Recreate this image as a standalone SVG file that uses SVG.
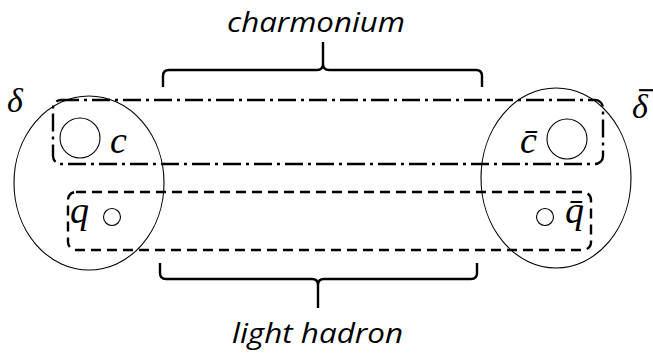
<svg xmlns="http://www.w3.org/2000/svg" width="653" height="353" viewBox="0 0 653 353">
<style>
.thin{fill:none;stroke:#000;stroke-width:1.1}
.dd{fill:none;stroke:#000;stroke-width:2.4;stroke-dasharray:18 5 3 5}
.da{fill:none;stroke:#000;stroke-width:2.4;stroke-dasharray:10 6}
.br{fill:none;stroke:#000;stroke-width:2.4}
.lab{font-family:"Open Sans",sans-serif;font-style:italic;font-size:27px;fill:#000}
.m{font-family:"Liberation Serif","DejaVu Serif",serif;font-style:italic;font-size:38px;fill:#000}
.g{font-family:"Liberation Serif","DejaVu Serif",serif;font-style:italic;font-size:34px;fill:#000}
</style>
<rect width="653" height="353" fill="#fff"/>
<g id="delta">
<ellipse class="thin" cx="89" cy="183" rx="75" ry="87"/>
<text class="g" x="7" y="112">δ</text>
</g>
<g id="deltabar">
<ellipse class="thin" cx="556" cy="178" rx="75" ry="90"/>
<text class="g" x="632" y="118">δ<tspan x="637" y="115" stroke="#000" stroke-width="0.7">¯</tspan></text>
</g>
<g id="charm">
<circle class="thin" cx="80" cy="138" r="20"/>
<text class="m" x="110" y="153">c</text>
</g>
<g id="anticharm">
<circle class="thin" cx="567" cy="139" r="20"/>
<text class="m" x="520" y="153">c̄</text>
</g>
<g id="quark">
<circle class="thin" cx="112" cy="217" r="8.5"/>
<text class="m" x="70" y="223">q</text>
</g>
<g id="antiquark">
<circle class="thin" cx="545" cy="217" r="8.5"/>
<text class="m" x="565" y="223">q̄</text>
</g>
<g id="connectors">
<rect class="dd" x="53" y="100" width="550" height="64" rx="8"/>
<rect class="da" x="68" y="192" width="523" height="58" rx="8"/>
<path class="br" d="M163,87 V76 Q163,70 169,70 H317 Q323,70 323,64 V42 M323,64 Q323,70 329,70 H476 Q482,70 482,76 V87"/>
<path class="br" d="M160,263 V273 Q160,279 166,279 H312 Q318,279 318,285 V308 M318,285 Q318,279 324,279 H471 Q477,279 477,273 V263"/>
</g>
<g id="labels">
<text class="lab" x="227" y="32" textLength="178" lengthAdjust="spacingAndGlyphs">charmonium</text>
<text class="lab" x="232" y="343" textLength="171" lengthAdjust="spacingAndGlyphs">light hadron</text>
</g>
</svg>
